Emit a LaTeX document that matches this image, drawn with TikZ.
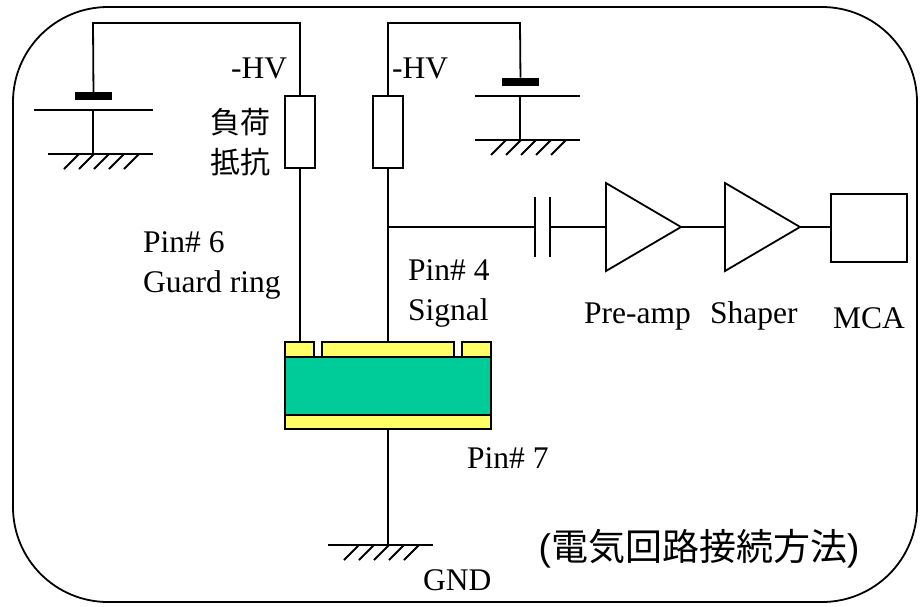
\documentclass[tikz,border=0pt]{standalone}
\usepackage{fontspec}
\setmainfont{Liberation Serif}
\newfontfamily\cjk{Noto Sans CJK JP}
\newfontfamily\sanslabel{Liberation Sans}
\usepackage{xcolor}
\definecolor{padyellow}{HTML}{ffff66}
\definecolor{bulkgreen}{HTML}{00cc99}
\usetikzlibrary{positioning}
\usetikzlibrary{shapes.geometric}
\tikzset{
    wire/.style={line width=1.8pt},
    lab/.style={anchor=base west, inner sep=0pt, font=\fontsize{31.5}{32}\selectfont},
    jplab/.style={inner sep=0pt, font=\fontsize{30}{40}\selectfont\cjk, align=center},
    resistor/.style={draw, line width=1.8pt, outer sep=0pt, inner sep=0pt, minimum width=30pt, minimum height=72pt},
    plate/.style={fill=black, outer sep=0pt, inner sep=0pt, minimum width=37pt, minimum height=8pt},
    amp/.style={draw, line width=1.8pt, isosceles triangle, isosceles triangle stretches, outer sep=0pt, inner sep=0pt, minimum width=88pt, minimum height=75pt},
    pad/.style={draw, line width=1.8pt, fill=padyellow, outer sep=0pt, inner sep=0pt, minimum height=15pt},
    gnd/.pic={
        \draw [line width=1.8pt] (0,0) -- (105,0);
        \foreach \i in {0,...,4} {\draw [line width=1.8pt] (31+15*\i,0) -- ++(-15,15);}
    }
}

\begin{document}
\begin{tikzpicture}[x=1pt,y=-1pt]
    \useasboundingbox (0,0) rectangle (920,606);
    \draw [wire, rounded corners=95pt] (13,7) rectangle (917,602);

    % detector
    \node [draw, line width=1.8pt, fill=bulkgreen, outer sep=0pt, inner sep=0pt, minimum width=206pt, minimum height=58pt] (bulk) at (388,386) {};
    \node [pad, minimum width=29pt, above right=0pt and 0pt of bulk.north west] (guardL) {};
    \node [pad, minimum width=132pt, above=0pt of bulk.north] (signalpad) {};
    \node [pad, minimum width=29pt, above left=0pt and 0pt of bulk.north east] (guardR) {};
    \node [pad, minimum width=206pt, minimum height=14pt, below=0pt of bulk] (backpad) {};

    % resistors and supplies
    \node [resistor] (rL) at (300,132) {};
    \node [resistor, right=58pt of rL] (rR) {};
    \node [plate] (plateL) at (93.5,96) {};
    \node [plate] (plateR) at (520.5,81.5) {};
    \coordinate (thinL) at (93,110);
    \coordinate (thinR) at (520,96);
    \coordinate (gndL) at (93,154);
    \coordinate (gndR) at (520,140);
    \coordinate (gndM) at (388,545);
    \coordinate (cornerL) at (93,23);
    \coordinate (cornerR) at (520,23);

    \draw [wire] (plateL) -- (cornerL) -| (rL.north);
    \draw [wire] (plateR) -- (cornerR) -| (rR.north);
    \draw [wire] (thinL) -- (gndL);
    \draw [wire] (thinR) -- (gndR);
    \draw [wire] (34,110) -- (153,110);
    \draw [wire] (475,96) -- (580,96);
    \pic at (48,154) {gnd};
    \pic at (475,140) {gnd};
    \pic at (328,545) {gnd};

    \draw [wire] (rL.south) -- (rL.south |- guardL.north);
    \draw [wire] (rR.south) -- (rR.south |- signalpad.north);
    \draw [wire] (backpad.south) -- (gndM);

    % readout chain
    \coordinate (tap) at (rR |- 0,227);
    \coordinate (capA) at (535,227);
    \coordinate (capB) at (550,227);
    \node [amp, anchor=lower side] (preamp) at (606,227) {};
    \node [amp, anchor=lower side] (shaper) at (725,227) {};
    \node [draw, line width=1.8pt, outer sep=0pt, inner sep=0pt, minimum width=76pt, minimum height=68pt, anchor=west] (mca) at (831,228) {};

    \draw [wire] (tap) -- (capA);
    \draw [wire] (capB) -- (preamp.lower side);
    \draw [wire] (535,197) -- (535,257);
    \draw [wire] (550,197) -- (550,257);
    \draw [wire] (preamp.apex) -- (shaper.lower side);
    \draw [wire] (shaper.apex) -- (mca.west |- shaper.apex);

    % labels
    \node [lab] (hvL) at (231,78) {-HV};
    \node [lab] (hvR) at (392,78) {-HV};
    \node [jplab] (load) at (240,142) {負荷\\抵抗};
    \node [lab] (pin6) at (143,252) {Pin\# 6};
    \node [lab] (guard) at (143,292) {Guard ring};
    \node [lab] (pin4) at (408,280) {Pin\# 4};
    \node [lab] (signal) at (408,320) {Signal};
    \node [lab] (preamplab) at (584,323) {Pre-amp};
    \node [lab] (shaperlab) at (710,323) {Shaper};
    \node [lab] (mcalab) at (833,328) {MCA};
    \node [lab] (pin7) at (467,468) {Pin\# 7};
    \node [lab] (gndlab) at (423,590) {GND};
    \node [inner sep=0pt, font=\fontsize{37}{37}\selectfont\sanslabel] (title) at (699,549) {(\cjk 電気回路接続方法\sanslabel)};
\end{tikzpicture}
\end{document}
